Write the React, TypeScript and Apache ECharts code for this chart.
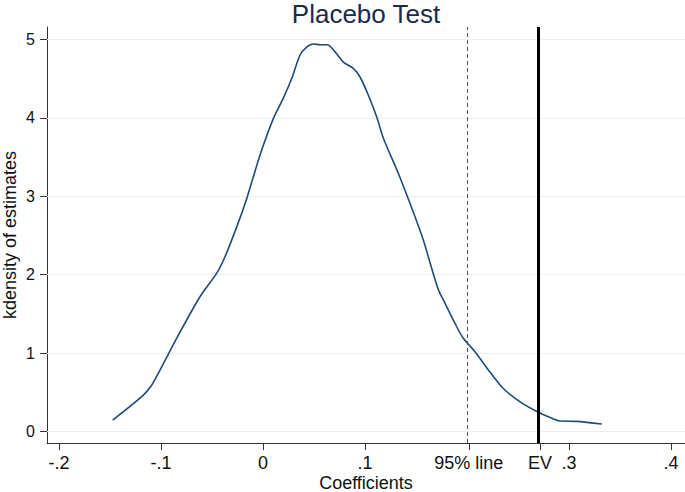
import React, { useEffect, useRef } from "react";
import * as echarts from "echarts";

const titleText = "Placebo Test";
const xName = "Coefficients";
const yName = "kdensity of estimates";

// kernel density curve (coefficient, density)
const coefValues = [
  -0.1474, -0.1173, -0.1091, -0.101, -0.083, -0.0618, -0.0454, -0.0373, -0.0258, -0.016,
  -0.0095, -0.0013, 0.0101, 0.0199, 0.0281, 0.0363, 0.0428, 0.0493, 0.0566, 0.063,
  0.0706, 0.0787, 0.0885, 0.0951, 0.1032, 0.1115, 0.118, 0.1327, 0.1458, 0.1572,
  0.1654, 0.1719, 0.1768, 0.1882, 0.1964, 0.2078, 0.2225, 0.2356, 0.252, 0.2699,
  0.2797, 0.2912, 0.3075, 0.3321,
];
const densityValues = [
  0.149, 0.467, 0.595, 0.786, 1.23, 1.72, 2.02, 2.23, 2.61, 2.97,
  3.25, 3.59, 3.99, 4.25, 4.5, 4.8, 4.9, 4.94, 4.93, 4.93,
  4.84, 4.71, 4.63, 4.52, 4.29, 4.01, 3.74, 3.29, 2.85, 2.44,
  2.08, 1.81, 1.68, 1.38, 1.19, 1.02, 0.76, 0.55, 0.38, 0.247,
  0.19, 0.136, 0.132, 0.098,
];

const line95Value = 0.2017;
const evValue = 0.2716;
const xTickValues = [-0.2, -0.1, 0, 0.1, line95Value, evValue, 0.3, 0.4];
const xTickLabels = ["-.2", "-.1", "0", ".1", "95% line", "EV", ".3", ".4"];
const yTickValues = [0, 1, 2, 3, 4, 5];
const yTickLabels = ["0", "1", "2", "3", "4", "5"];

const FONT = "'Liberation Sans', Arial, sans-serif";

export default function App() {
  const ref = useRef<HTMLDivElement>(null);
  useEffect(() => {
    if (!ref.current) return;
    const chart = echarts.init(ref.current, undefined, { renderer: "svg" });
    const labelFor = (vals: number[], labels: string[]) => (v: number) => {
      let best = 0;
      for (let i = 1; i < vals.length; i++) {
        if (Math.abs(vals[i] - v) < Math.abs(vals[best] - v)) best = i;
      }
      return labels[best];
    };
    chart.setOption({
      animation: false,
      backgroundColor: "#ffffff",
      textStyle: { fontFamily: FONT },
      title: {
        text: titleText,
        left: 366,
        textAlign: "center",
        top: 1,
        padding: 0,
        textStyle: { fontFamily: FONT, fontSize: 26, lineHeight: 26, fontWeight: "normal", color: "#1c2a4a" },
      },
      grid: { left: 47, right: 0, top: 27, bottom: 49, containLabel: false, outerBoundsMode: "none" },
      xAxis: {
        type: "value",
        min: -0.2118,
        max: 0.4137,
        name: xName,
        nameLocation: "middle",
        nameGap: 33,
        nameMoveOverlap: false,
        nameTextStyle: { fontFamily: FONT, fontSize: 18, lineHeight: 14, color: "#111" },
        axisLine: { show: true, onZero: false, lineStyle: { color: "#333", width: 1 } },
        axisTick: { show: true, length: 7, customValues: xTickValues, lineStyle: { color: "#333" } },
        axisLabel: {
          customValues: xTickValues,
          formatter: labelFor(xTickValues, xTickLabels),
          margin: 13,
          fontFamily: FONT,
          fontSize: 18,
          lineHeight: 14,
          color: "#111",
        },
        splitLine: { show: false },
      },
      yAxis: {
        type: "value",
        min: -0.144,
        max: 5.157,
        name: yName,
        nameLocation: "middle",
        nameGap: 29.5,
        nameMoveOverlap: false,
        nameTextStyle: { fontFamily: FONT, fontSize: 18, lineHeight: 16, color: "#111" },
        axisLine: { show: true, onZero: false, lineStyle: { color: "#333", width: 1 } },
        axisTick: { show: true, length: 7, customValues: yTickValues, lineStyle: { color: "#333" } },
        axisLabel: {
          customValues: yTickValues,
          formatter: labelFor(yTickValues, yTickLabels),
          margin: 12,
          fontFamily: FONT,
          fontSize: 16,
          color: "#111",
        },
        splitLine: { show: false },
      },
      series: [
        {
          type: "line",
          silent: true,
          data: [],
          z: 1,
          markLine: {
            silent: true,
            z: 1,
            symbol: "none",
            label: { show: false },
            lineStyle: { color: "#e8f0f1", width: 1, type: "solid" },
            data: yTickValues.map((v) => ({ yAxis: v })),
          },
        },
        {
          type: "line",
          data: coefValues.map((c, i) => [c, densityValues[i]]),
          showSymbol: false,
          smooth: 0.3,
          lineStyle: { color: "#1f4b78", width: 1.6 },
          z: 3,
          markLine: {
            silent: true,
            z: 4,
            symbol: "none",
            label: { show: false },
            data: [
              { xAxis: line95Value, lineStyle: { color: "#555", width: 1, type: [4, 3] } },
              { xAxis: evValue, lineStyle: { color: "#000", width: 3, type: "solid" } },
            ],
          },
        },
      ],
    });
    return () => chart.dispose();
  }, []);
  return <div ref={ref} style={{ width: 685, height: 492, position: "absolute", left: 0, top: 0 }} />;
}
